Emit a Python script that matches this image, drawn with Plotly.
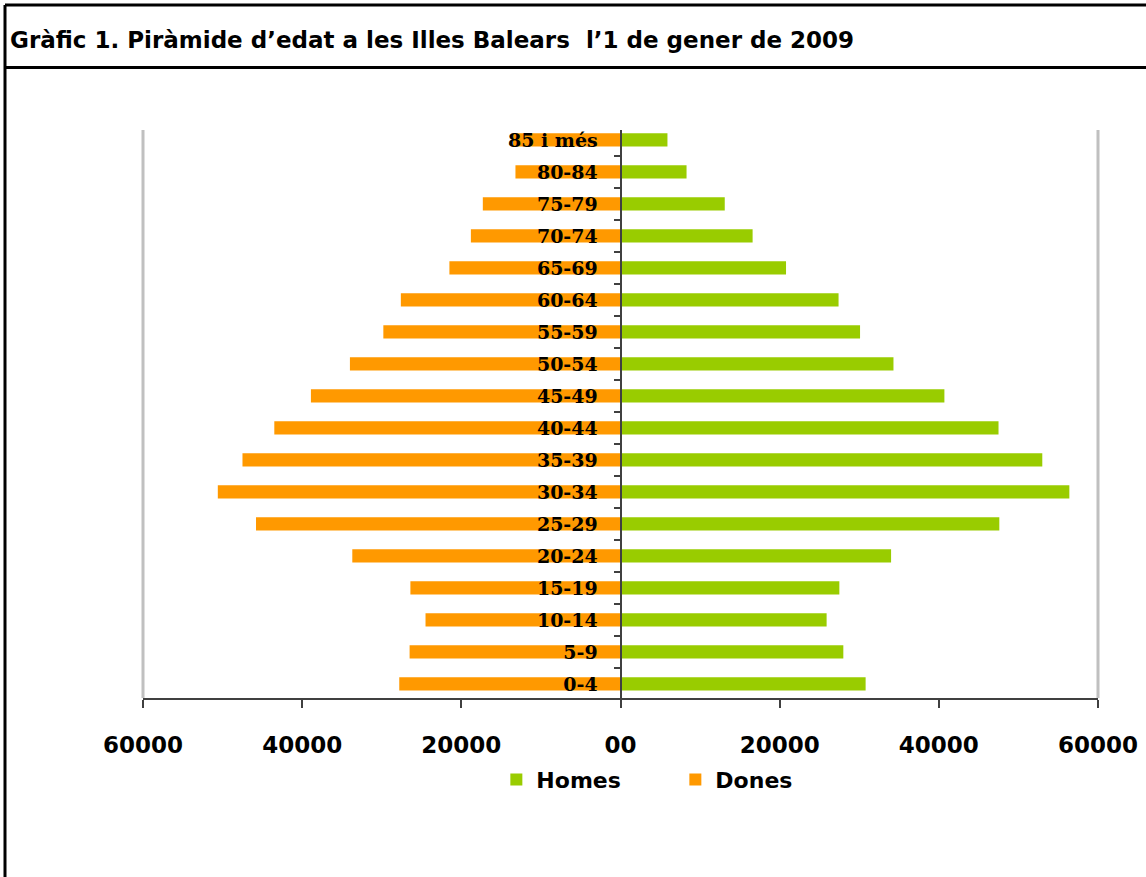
import plotly.graph_objects as go

# age groups, bottom to top
edats = ["0-4", "5-9", "10-14", "15-19", "20-24", "25-29", "30-34", "35-39", "40-44",
         "45-49", "50-54", "55-59", "60-64", "65-69", "70-74", "75-79", "80-84", "85 i més"]

homes = [30800, 28000, 25900, 27500, 34000, 47600, 56400, 53000, 47500,
         40700, 34300, 30100, 27400, 20800, 16600, 13100, 8300, 5900]
dones = [27800, 26500, 24500, 26400, 33700, 45800, 50600, 47500, 43500,
         38900, 34000, 29800, 27600, 21500, 18800, 17300, 13200, 13500]

x_ticks = [-60000, -40000, -20000, 0, 20000, 40000, 60000]
x_ticktext = ["60000", "40000", "20000", "00", "20000", "40000", "60000"]

title = "Gràfic 1. Piràmide d’edat a les Illes Balears  l’1 de gener de 2009"

fig = go.Figure()
fig.add_trace(go.Bar(y=edats, x=homes, orientation="h", name="Homes",
                     marker=dict(color="#99cc00", line=dict(width=0))))
fig.add_trace(go.Bar(y=edats, x=[-v for v in dones], orientation="h", name="Dones",
                     marker=dict(color="#ff9900", line=dict(width=0))))

fig.update_layout(
    width=1146, height=877,
    margin=dict(l=143, r=48, t=130, b=179),
    paper_bgcolor="white", plot_bgcolor="white",
    barmode="overlay", bargap=0.59,
    font=dict(family="DejaVu Sans", color="black"),
    legend=dict(orientation="h", x=0.37, y=-0.144, xanchor="left", yanchor="middle",
                font=dict(size=22, family="DejaVu Sans", weight="bold"),
                itemwidth=30, entrywidth=134, traceorder="normal"),
    showlegend=True,
)

fig.update_xaxes(range=[-60000, 60000], tickvals=x_ticks, ticktext=x_ticktext,
                 showgrid=False, zeroline=False, showline=True, linecolor="#404040",
                 linewidth=2, ticks="outside", ticklen=8, tickcolor="#404040", tickwidth=2,
                 ticklabelstandoff=17, automargin=False,
                 tickfont=dict(size=23, family="DejaVu Sans", weight="bold", color="black"))
fig.update_yaxes(anchor="free", position=0.5, range=[-0.44, 17.31],
                 showgrid=False, showline=True,
                 linecolor="#404040", linewidth=2, ticks="outside", tickson="boundaries",
                 ticklen=6, tickcolor="#404040", tickwidth=2, ticklabelstandoff=18,
                 automargin=False,
                 tickfont=dict(size=19, family="DejaVu Serif", weight="bold", color="black"))

# light gray lines at the plot edges
for xe in [0, 1]:
    fig.add_shape(type="line", xref="x domain", yref="paper", x0=xe, x1=xe, y0=0, y1=1,
                  line=dict(color="#c0c0c0", width=3), layer="below")

# frame and title bar
fig.add_shape(type="line", xref="paper", yref="paper", x0=-0.1445, x1=1.06, y0=1.220, y1=1.220,
              line=dict(color="black", width=3))
fig.add_shape(type="line", xref="paper", yref="paper", x0=-0.1445, x1=1.06, y0=1.110, y1=1.110,
              line=dict(color="black", width=3))
fig.add_shape(type="line", xref="paper", yref="paper", x0=-0.1445, x1=-0.1445, y0=1.220, y1=-0.35,
              line=dict(color="black", width=3))

fig.add_annotation(text="<b>" + title + "</b>", xref="paper", yref="paper",
                   x=-0.141, y=1.158, xanchor="left", yanchor="middle", showarrow=False,
                   font=dict(size=23, family="DejaVu Sans", color="black"))

fig.write_html("out.html", config={"displayModeBar": False},
               post_script="document.body.style.margin='0';")
